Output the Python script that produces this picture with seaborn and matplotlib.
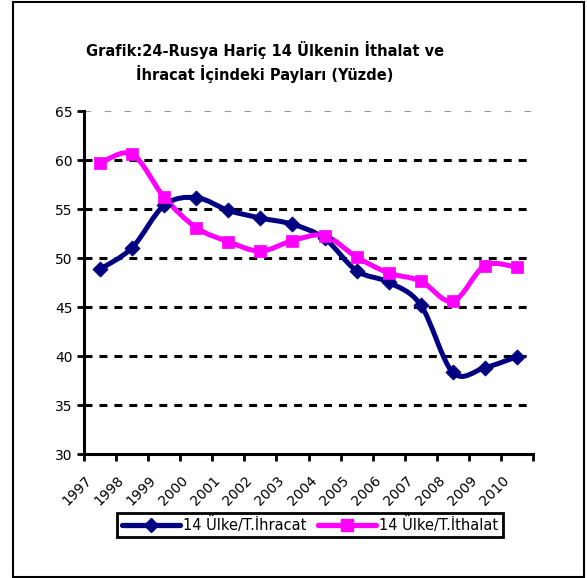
import numpy as np
import pandas as pd
import seaborn as sns
import matplotlib.pyplot as plt
from matplotlib.path import Path
from matplotlib.patches import PathPatch, Rectangle
from matplotlib.lines import Line2D
from matplotlib.transforms import ScaledTranslation

# veriler
years = ["1997", "1998", "1999", "2000", "2001", "2002", "2003",
         "2004", "2005", "2006", "2007", "2008", "2009", "2010"]
ihracat = [48.85, 51.05, 55.37, 56.16, 54.86, 54.08, 53.44,
           52.0, 48.7, 47.52, 45.2, 38.33, 38.81, 39.93]
ithalat = [59.66, 60.6, 56.2, 53.1, 51.67, 50.71, 51.77,
           52.28, 50.1, 48.47, 47.65, 45.58, 49.22, 49.05]
series_names = ["14 Ülke/T.İhracat", "14 Ülke/T.İthalat"]
y_ticks = [30, 35, 40, 45, 50, 55, 60, 65]

df = pd.DataFrame({"x": np.arange(len(years)), "year": years,
                   series_names[0]: ihracat, series_names[1]: ithalat})
long = df.melt(id_vars=["x", "year"], var_name="seri", value_name="pay")

sns.set_theme(style="white")
plt.rcParams["font.family"] = ["DejaVu Sans"]
plt.rcParams["text.color"] = "black"
plt.rcParams["xtick.color"] = "black"
plt.rcParams["ytick.color"] = "black"

navy = "#000080"
magenta = "#FF00FF"

fig = plt.figure(figsize=(5.87, 5.78), dpi=100)
ax = fig.add_axes([84 / 587, 1 - 454 / 578, 449 / 587, 343 / 578])


def smooth_path(xs, ys):
    # Excel tarzı yumuşatılmış çizgi (kübik Bezier)
    pts = np.column_stack([xs, ys]).astype(float)
    n = len(pts)
    verts = [pts[0]]
    codes = [Path.MOVETO]
    for i in range(n - 1):
        p0 = pts[max(i - 1, 0)]
        p1 = pts[i]
        p2 = pts[i + 1]
        p3 = pts[min(i + 2, n - 1)]
        c1 = p1 + (p2 - p0) / 6
        c2 = p2 - (p3 - p1) / 6
        verts += [c1, c2, p2]
        codes += [Path.CURVE4] * 3
    return Path(verts, codes)


for name, col, mk in [(series_names[0], navy, "D"), (series_names[1], magenta, "s")]:
    sub = long[long["seri"] == name]
    ax.add_patch(PathPatch(smooth_path(sub["x"], sub["pay"]), facecolor="none",
                           edgecolor=col, lw=3.6, capstyle="round", joinstyle="round", zorder=3))
    sns.scatterplot(data=sub, x="x", y="pay", color=col, marker=mk,
                    s=75 if mk == "s" else 60, edgecolor=col, linewidth=0.5,
                    ax=ax, zorder=4, legend=False)

ax.set_xlim(-0.5, len(years) - 0.5)
ax.set_ylim(30, 65)
ax.set_xlabel("")
ax.set_ylabel("")

# eksenler
for s in ["top", "right"]:
    ax.spines[s].set_visible(False)
for s in ["left", "bottom"]:
    ax.spines[s].set_linewidth(2.2)
    ax.spines[s].set_color("black")

ax.set_yticks(y_ticks)
ax.set_yticklabels([str(v) for v in y_ticks], fontsize=10)
ax.tick_params(axis="y", direction="out", length=5, width=2, color="black", pad=3, left=True)

ax.set_xticks(np.arange(-0.5, len(years), 1.0))
ax.set_xticklabels([])
ax.tick_params(axis="x", which="major", direction="out", length=5, width=2, color="black", bottom=True)
ax.set_xticks(np.arange(len(years)), minor=True)
ax.set_xticklabels(years, minor=True, fontsize=10, rotation=45, ha="right",
                   rotation_mode="anchor")
ax.tick_params(axis="x", which="minor", length=0, pad=14)
for lab in ax.get_xticklabels(minor=True):
    lab.set_transform(lab.get_transform() + ScaledTranslation(-0.15, 0, fig.dpi_scale_trans))

# kesikli yatay çizgiler
for v in y_ticks[1:-1]:
    ax.axhline(v, color="black", lw=2.2, linestyle=(0, (2.6, 2.3)), zorder=1)
ax.axhline(y_ticks[-1], color="#999999", lw=0.8, linestyle=(0, (6, 12)), zorder=1)

fig.text(265 / 587, 1 - 62 / 578,
         "Grafik:24-Rusya Hariç 14 Ülkenin İthalat ve\nİhracat İçindeki Payları (Yüzde)",
         ha="center", va="center", fontsize=10.5, fontweight="bold", linespacing=1.35,
         color="black")

handles = [Line2D([], [], color=navy, lw=3.8, marker="D", markersize=7),
           Line2D([], [], color=magenta, lw=3.8, marker="s", markersize=8)]
leg = fig.legend(handles, series_names, loc="center", ncol=2,
                 bbox_to_anchor=(310 / 587, 1 - 525 / 578), fontsize=10.5,
                 handlelength=4, handletextpad=0.2, columnspacing=0.8,
                 frameon=True, fancybox=False, borderpad=0.3, framealpha=1)
leg.get_frame().set_edgecolor("black")
leg.get_frame().set_linewidth(2)
for t in leg.get_texts():
    t.set_color("black")

# dış çerçeve
fig.patches.append(Rectangle((13 / 587, 1 / 578), 571 / 587, 575 / 578,
                             transform=fig.transFigure, fill=False,
                             edgecolor="black", lw=1.5))

fig.savefig("out.png", dpi=100)
